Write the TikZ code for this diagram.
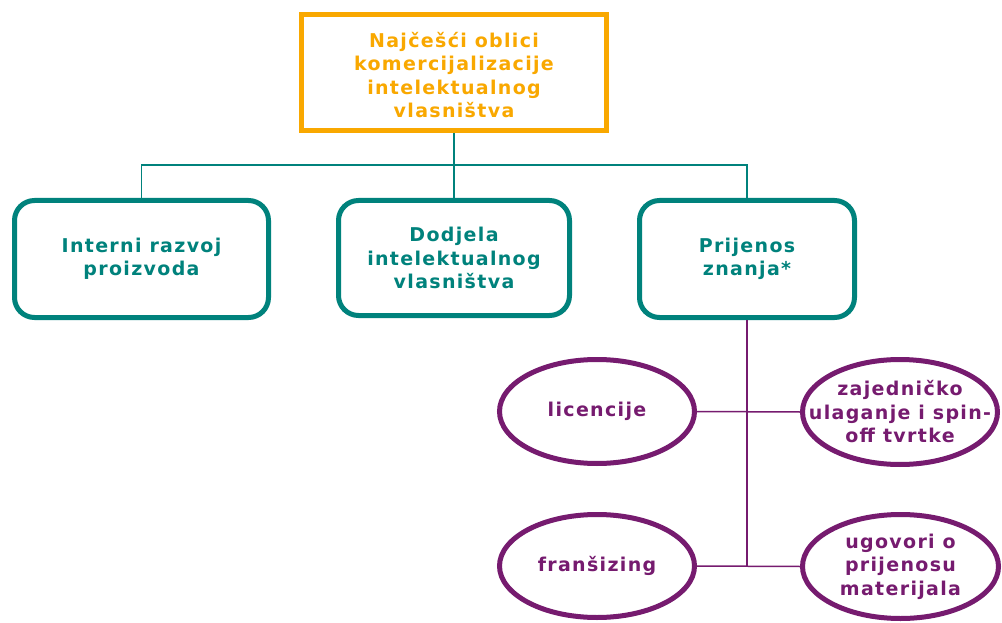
\documentclass[tikz,border=0pt]{standalone}
\usepackage{fontspec}
\setmainfont{DejaVu Sans}[LetterSpace=7]
\usetikzlibrary{shapes.geometric,shadows}
\definecolor{orangeC}{HTML}{F9A800}
\definecolor{tealC}{HTML}{00827C}
\definecolor{purpC}{HTML}{761B6F}
\begin{document}
\begin{tikzpicture}[x=1pt,y=-1pt,
  shade/.style={fill=white, drop shadow={opacity=0.3, shadow xshift=1.5pt, shadow yshift=-2pt}},
  txt/.style={align=center, font=\bfseries\fontsize{19}{23.5}\selectfont, inner sep=0pt},
  topbox/.style={shade, draw=orangeC, line width=5pt, label={[txt, text=orangeC, yshift=-2.5pt]center:#1}},
  tealbox/.style={txt, shade, draw=tealC, line width=5pt, text=tealC, rounded corners=20pt},
  oval/.style={ellipse, shade, draw=purpC, line width=5pt, inner sep=0pt, label={[txt, text=purpC]center:#1}},
  tealline/.style={draw=tealC, line width=1.5pt},
  purpline/.style={draw=purpC, line width=1.5pt}
]
\useasboundingbox (0,0) rectangle (1002,623);
\coordinate (j) at (454,165);
\node[topbox={Najčešći oblici\\komercijalizacije\\intelektualnog\\vlasništva}, minimum width=305pt, minimum height=116pt] (top) at (454,72.5) {};
\node[tealbox, minimum width=254pt, minimum height=117pt] (b1) at (141.5,259)
  {Interni razvoj\\proizvoda};
\node[tealbox, minimum width=231pt, minimum height=115pt] (b2) at (454,258)
  {Dodjela\\intelektualnog\\vlasništva};
\node[tealbox, minimum width=215pt, minimum height=117pt] (b3) at (747,259)
  {Prijenos\\znanja*};
\node[oval={licencije}, minimum width=195pt, minimum height=104pt] (e1) at (597,411.5) {};
\node[oval={zajedničko\\ulaganje i spin-\\off tvrtke}, minimum width=195pt, minimum height=105pt] (e2) at (900,412) {};
\node[oval={franšizing}, minimum width=195pt, minimum height=103pt] (e3) at (597,566) {};
\node[oval={ugovori o\\prijenosu\\materijala}, minimum width=196pt, minimum height=104pt] (e4) at (900.5,566.5) {};
\draw[tealline] (top.south) -- (j);
\draw[tealline] (b1.north) |- (j) -| (b3.north);
\draw[tealline] (j) -- (b2.north);
\draw[purpline] (b3.south) -- (b3.south |- e4.west);
\draw[purpline] (e1.east) -- (e2.west);
\draw[purpline] (e3.east) -- (e4.west);
\end{tikzpicture}
\end{document}
